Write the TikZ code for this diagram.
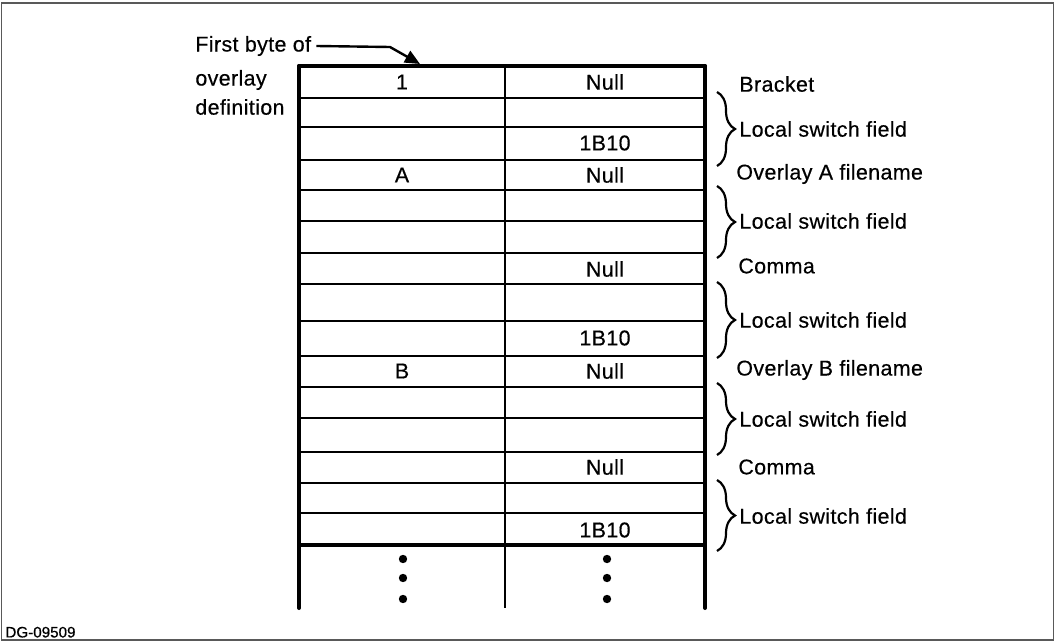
\documentclass[tikz,border=0pt]{standalone}
\usepackage{fontspec}
\setmainfont{Liberation Sans}[LetterSpace=1.8,FakeBold=0.4]
\newfontfamily\tagfont{Liberation Sans}[FakeBold=0.5]
\usetikzlibrary{arrows.meta,decorations.pathreplacing}

\begin{document}
\begin{tikzpicture}[x=0.5pt,y=-0.5pt,
  txt/.style={font=\fontsize{10.7}{12}\selectfont, inner sep=0pt},
  lab/.style={txt, anchor=west},
  frameline/.style={draw=black!65, line width=0.8pt},
  outer/.style={line width=2pt, line cap=round},
  rowline/.style={line width=1.2pt},
  midline/.style={line width=1.4pt},
  curly/.style={decorate, decoration={brace, amplitude=9pt}, line width=1.1pt},
  dot/.style={circle, fill=black, inner sep=0pt, minimum size=4.2pt},
  pointer/.style={line width=1.2pt, -{Triangle[length=7.5pt,width=6.5pt]}}]

\useasboundingbox (0,0) rectangle (1055,642);

% outer frame of the figure
\draw[frameline] (1.5,3) rectangle (1053.5,640);

% table body: horizontal rules between the rows
\foreach \y in {98,127,160,190,221,253,284,321,356,387,418,452,483,513}
  \draw[rowline] (299,\y) -- (705,\y);
\draw[line width=1.6pt] (299,545) -- (705,545);
\draw[outer] (299,66) -- (705,66);
\draw[outer] (299,66) -- (299,608);
\draw[outer] (705,66) -- (705,608);
\draw[midline] (505,66) -- (505,608);

% cell contents
\node[txt] (c1) at (402,82) {1};
\node[txt] (n1) at (605,82) {Null};
\node[txt] (s1) at (605,143) {1B10};
\node[txt] (cA) at (402,175) {A};
\node[txt] (nA) at (605,175) {Null};
\node[txt] (n2) at (605,269) {Null};
\node[txt] (s2) at (605,338) {1B10};
\node[txt] (cB) at (402,371) {B};
\node[txt] (nB) at (605,371) {Null};
\node[txt] (n3) at (605,467) {Null};
\node[txt] (s3) at (605,530) {1B10};

% continuation dots
\foreach \y/\k in {559/a,578/b,599/c} {
  \node[dot] (dl\k) at (403,\y) {};
  \node[dot] (dr\k) at (607,\y) {};
}

% label on the left and its pointer
\node[lab] (first) at (195,46) {First byte of};
\node[lab] (ovl) at (195,80) {overlay};
\node[lab] (defn) at (195,107) {definition};
\coordinate (bend) at (390,47);
\coordinate (tip) at (420,64);
\draw[pointer] (first.east) ++(5,0) -- (bend) -- (tip);

% field labels on the right
\node[lab] (lbr) at (739,84) {Bracket};
\node[lab] (lf1) at (739,129) {Local switch field};
\node[lab] (lfa) at (736,174) {Overlay A filename};
\node[lab] (lf2) at (739,221) {Local switch field};
\node[lab] (lc1) at (738,266) {Comma};
\node[lab] (lf3) at (739,320) {Local switch field};
\node[lab] (lfb) at (736,370) {Overlay B filename};
\node[lab] (lf4) at (739,419) {Local switch field};
\node[lab] (lc2) at (738,467) {Comma};
\node[lab] (lf5) at (739,516) {Local switch field};

% braces grouping the switch-field rows
\draw[curly] (717,92) -- (717,166);
\draw[curly] (717,186) -- (717,258);
\draw[curly] (717,282) -- (717,358);
\draw[curly] (717,383) -- (717,455);
\draw[curly] (717,480) -- (717,551);

% drawing number
\node[font=\tagfont\fontsize{7.6}{8}\selectfont, anchor=south west, inner sep=0pt] (tag) at (5,638) {DG-09509};
\end{tikzpicture}
\end{document}
